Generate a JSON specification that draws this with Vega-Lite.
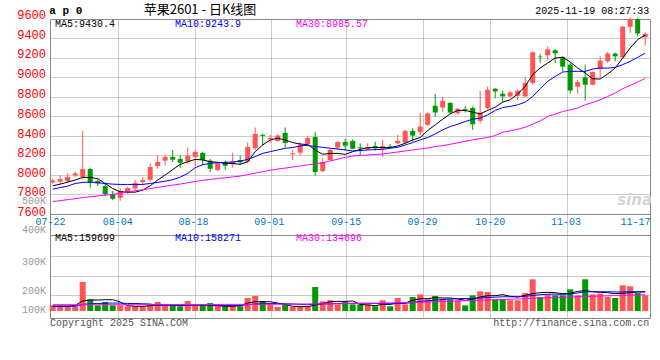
{
"$schema": "https://vega.github.io/schema/vega-lite/v6.json",
"width": 600, "height": 299,
"autosize": {"type": "none"},
"padding": {"left": 50, "top": 19, "right": 10, "bottom": 42},
"background": "#ffffff",
"config": {"view": {"stroke": "#888888", "strokeWidth": 1}, "scale": {"continuousPadding": 0}},
"data": {"values": [
{"i":0,"d":"07-22","o":7919,"h":7957,"l":7902,"c":7939,"m5":7884,"m10":7850,"m30":7722,"v":47000,"v5":39000,"v10":40000,"v30":52000},
{"i":1,"d":"07-23","o":7926,"h":7994,"l":7902,"c":7953,"m5":7901,"m10":7866,"m30":7732,"v":47000,"v5":39000,"v10":40000,"v30":52000},
{"i":2,"d":"07-24","o":7933,"h":8011,"l":7915,"c":7974,"m5":7922,"m10":7881,"m30":7742,"v":47000,"v5":39000,"v10":40000,"v30":52000},
{"i":3,"d":"07-25","o":7991,"h":8029,"l":7974,"c":8011,"m5":7943,"m10":7908,"m30":7752,"v":39000,"v5":47000,"v10":40000,"v30":52000},
{"i":4,"d":"07-28","o":7974,"h":8447,"l":7950,"c":8056,"m5":7970,"m10":7919,"m30":7763,"v":241000,"v5":83000,"v10":55000,"v30":52000},
{"i":5,"d":"07-29","o":8056,"h":8070,"l":7864,"c":7915,"m5":7970,"m10":7922,"m30":7771,"v":97000,"v5":91000,"v10":60000,"v30":52000},
{"i":6,"d":"07-30","o":7933,"h":7950,"l":7885,"c":7909,"m5":7957,"m10":7915,"m30":7780,"v":47000,"v5":91000,"v10":62000,"v30":52000},
{"i":7,"d":"07-31","o":7881,"h":7915,"l":7778,"c":7799,"m5":7908,"m10":7908,"m30":7788,"v":75000,"v5":94000,"v10":65000,"v30":52000},
{"i":8,"d":"08-01","o":7799,"h":7830,"l":7737,"c":7751,"m5":7857,"m10":7901,"m30":7797,"v":47000,"v5":94000,"v10":66000,"v30":52000},
{"i":9,"d":"08-04","o":7761,"h":7857,"l":7730,"c":7830,"m5":7823,"m10":7898,"m30":7808,"v":47000,"v5":75000,"v10":66000,"v30":52000},
{"i":10,"d":"08-05","o":7812,"h":7874,"l":7799,"c":7861,"m5":7819,"m10":7898,"m30":7820,"v":39000,"v5":44000,"v10":62000,"v30":52000},
{"i":11,"d":"08-06","o":7857,"h":7943,"l":7833,"c":7912,"m5":7819,"m10":7898,"m30":7832,"v":39000,"v5":39000,"v10":62000,"v30":52000},
{"i":12,"d":"08-07","o":7922,"h":7974,"l":7891,"c":7943,"m5":7840,"m10":7898,"m30":7844,"v":39000,"v5":39000,"v10":60000,"v30":53000},
{"i":13,"d":"08-08","o":7946,"h":8111,"l":7926,"c":8077,"m5":7884,"m10":7908,"m30":7856,"v":55000,"v5":44000,"v10":58000,"v30":53000},
{"i":14,"d":"08-11","o":8087,"h":8200,"l":8060,"c":8128,"m5":7943,"m10":7919,"m30":7868,"v":75000,"v5":50000,"v10":48000,"v30":53000},
{"i":15,"d":"08-12","o":8142,"h":8204,"l":8094,"c":8180,"m5":7995,"m10":7932,"m30":7880,"v":55000,"v5":50000,"v10":48000,"v30":53000},
{"i":16,"d":"08-13","o":8180,"h":8252,"l":8128,"c":8152,"m5":8050,"m10":7946,"m30":7891,"v":47000,"v5":50000,"v10":48000,"v30":53000},
{"i":17,"d":"08-14","o":8159,"h":8197,"l":8070,"c":8121,"m5":8104,"m10":7973,"m30":7902,"v":39000,"v5":44000,"v10":48000,"v30":53000},
{"i":18,"d":"08-15","o":8135,"h":8279,"l":8111,"c":8193,"m5":8131,"m10":8011,"m30":7915,"v":83000,"v5":50000,"v10":50000,"v30":54000},
{"i":19,"d":"08-18","o":8180,"h":8252,"l":8080,"c":8231,"m5":8155,"m10":8070,"m30":7928,"v":47000,"v5":50000,"v10":50000,"v30":54000},
{"i":20,"d":"08-19","o":8221,"h":8234,"l":8097,"c":8149,"m5":8149,"m10":8100,"m30":7940,"v":47000,"v5":50000,"v10":50000,"v30":54000},
{"i":21,"d":"08-20","o":8142,"h":8159,"l":8025,"c":8059,"m5":8131,"m10":8114,"m30":7949,"v":66000,"v5":50000,"v10":50000,"v30":54000},
{"i":22,"d":"08-21","o":8046,"h":8125,"l":8035,"c":8114,"m5":8125,"m10":8121,"m30":7958,"v":47000,"v5":44000,"v10":48000,"v30":54000},
{"i":23,"d":"08-22","o":8125,"h":8142,"l":8046,"c":8090,"m5":8114,"m10":8125,"m30":7966,"v":39000,"v5":39000,"v10":46000,"v30":55000},
{"i":24,"d":"08-25","o":8104,"h":8224,"l":8070,"c":8132,"m5":8114,"m10":8128,"m30":7975,"v":47000,"v5":39000,"v10":46000,"v30":55000},
{"i":25,"d":"08-26","o":8149,"h":8193,"l":8097,"c":8125,"m5":8104,"m10":8138,"m30":7984,"v":39000,"v5":44000,"v10":46000,"v30":55000},
{"i":26,"d":"08-27","o":8132,"h":8327,"l":8121,"c":8283,"m5":8131,"m10":8155,"m30":7999,"v":108000,"v5":66000,"v10":52000,"v30":55000},
{"i":27,"d":"08-28","o":8269,"h":8482,"l":8252,"c":8416,"m5":8234,"m10":8183,"m30":8014,"v":125000,"v5":77000,"v10":58000,"v30":55000},
{"i":28,"d":"08-29","o":8406,"h":8420,"l":8296,"c":8396,"m5":8303,"m10":8217,"m30":8029,"v":83000,"v5":77000,"v10":60000,"v30":56000},
{"i":29,"d":"09-01","o":8361,"h":8406,"l":8320,"c":8375,"m5":8354,"m10":8234,"m30":8043,"v":55000,"v5":77000,"v10":62000,"v30":56000},
{"i":30,"d":"09-02","o":8344,"h":8413,"l":8334,"c":8399,"m5":8372,"m10":8252,"m30":8056,"v":33000,"v5":66000,"v10":62000,"v30":56000},
{"i":31,"d":"09-03","o":8427,"h":8482,"l":8276,"c":8324,"m5":8354,"m10":8269,"m30":8066,"v":55000,"v5":55000,"v10":60000,"v30":57000},
{"i":32,"d":"09-04","o":8207,"h":8252,"l":8149,"c":8217,"m5":8327,"m10":8276,"m30":8077,"v":33000,"v5":39000,"v10":58000,"v30":57000},
{"i":33,"d":"09-05","o":8224,"h":8331,"l":8197,"c":8307,"m5":8313,"m10":8293,"m30":8087,"v":33000,"v5":36000,"v10":55000,"v30":58000},
{"i":34,"d":"09-08","o":8310,"h":8396,"l":8286,"c":8375,"m5":8306,"m10":8300,"m30":8098,"v":39000,"v5":36000,"v10":52000,"v30":58000},
{"i":35,"d":"09-09","o":8385,"h":8437,"l":7987,"c":8025,"m5":8252,"m10":8286,"m30":8110,"v":199000,"v5":50000,"v10":58000,"v30":59000},
{"i":36,"d":"09-10","o":8035,"h":8169,"l":8025,"c":8128,"m5":8207,"m10":8279,"m30":8121,"v":80000,"v5":61000,"v10":58000,"v30":59000},
{"i":37,"d":"09-11","o":8149,"h":8262,"l":8138,"c":8252,"m5":8217,"m10":8269,"m30":8139,"v":89000,"v5":77000,"v10":60000,"v30":60000},
{"i":38,"d":"09-12","o":8276,"h":8340,"l":8252,"c":8334,"m5":8217,"m10":8262,"m30":8157,"v":55000,"v5":80000,"v10":62000,"v30":60000},
{"i":39,"d":"09-15","o":8334,"h":8365,"l":8245,"c":8296,"m5":8207,"m10":8252,"m30":8176,"v":80000,"v5":80000,"v10":62000,"v30":61000},
{"i":40,"d":"09-16","o":8344,"h":8361,"l":8259,"c":8265,"m5":8234,"m10":8241,"m30":8190,"v":55000,"v5":83000,"v10":64000,"v30":62000},
{"i":41,"d":"09-17","o":8279,"h":8320,"l":8200,"c":8269,"m5":8258,"m10":8245,"m30":8195,"v":55000,"v5":55000,"v10":64000,"v30":63000},
{"i":42,"d":"09-18","o":8259,"h":8320,"l":8245,"c":8279,"m5":8276,"m10":8252,"m30":8200,"v":55000,"v5":50000,"v10":64000,"v30":64000},
{"i":43,"d":"09-19","o":8293,"h":8337,"l":8245,"c":8269,"m5":8276,"m10":8255,"m30":8205,"v":39000,"v5":44000,"v10":62000,"v30":65000},
{"i":44,"d":"09-22","o":8265,"h":8355,"l":8176,"c":8293,"m5":8276,"m10":8258,"m30":8210,"v":89000,"v5":55000,"v10":62000,"v30":66000},
{"i":45,"d":"09-23","o":8289,"h":8313,"l":8272,"c":8283,"m5":8276,"m10":8269,"m30":8221,"v":39000,"v5":55000,"v10":60000,"v30":67000},
{"i":46,"d":"09-24","o":8320,"h":8406,"l":8313,"c":8344,"m5":8293,"m10":8279,"m30":8231,"v":108000,"v5":66000,"v10":62000,"v30":69000},
{"i":47,"d":"09-25","o":8327,"h":8458,"l":8320,"c":8447,"m5":8320,"m10":8303,"m30":8241,"v":55000,"v5":66000,"v10":64000,"v30":71000},
{"i":48,"d":"09-26","o":8447,"h":8475,"l":8337,"c":8399,"m5":8355,"m10":8327,"m30":8252,"v":116000,"v5":89000,"v10":70000,"v30":72000},
{"i":49,"d":"09-29","o":8434,"h":8629,"l":8406,"c":8492,"m5":8379,"m10":8355,"m30":8262,"v":138000,"v5":102000,"v10":80000,"v30":73000},
{"i":50,"d":"09-30","o":8509,"h":8636,"l":8499,"c":8626,"m5":8451,"m10":8379,"m30":8272,"v":97000,"v5":102000,"v10":85000,"v30":75000},
{"i":51,"d":"10-09","o":8705,"h":8828,"l":8595,"c":8636,"m5":8509,"m10":8416,"m30":8286,"v":125000,"v5":111000,"v10":90000,"v30":77000},
{"i":52,"d":"10-10","o":8687,"h":8794,"l":8643,"c":8756,"m5":8567,"m10":8458,"m30":8296,"v":102000,"v5":108000,"v10":95000,"v30":79000},
{"i":53,"d":"10-13","o":8735,"h":8740,"l":8622,"c":8636,"m5":8622,"m10":8492,"m30":8310,"v":97000,"v5":108000,"v10":100000,"v30":81000},
{"i":54,"d":"10-14","o":8629,"h":8680,"l":8612,"c":8674,"m5":8657,"m10":8516,"m30":8325,"v":89000,"v5":100000,"v10":102000,"v30":83000},
{"i":55,"d":"10-15","o":8670,"h":8705,"l":8636,"c":8660,"m5":8657,"m10":8543,"m30":8340,"v":47000,"v5":89000,"v10":104000,"v30":85000},
{"i":56,"d":"10-16","o":8681,"h":8698,"l":8458,"c":8516,"m5":8639,"m10":8567,"m30":8355,"v":130000,"v5":97000,"v10":104000,"v30":87000},
{"i":57,"d":"10-17","o":8550,"h":8859,"l":8526,"c":8636,"m5":8622,"m10":8578,"m30":8368,"v":163000,"v5":116000,"v10":108000,"v30":89000},
{"i":58,"d":"10-20","o":8681,"h":8904,"l":8663,"c":8869,"m5":8657,"m10":8612,"m30":8380,"v":158000,"v5":127000,"v10":112000,"v30":91000},
{"i":59,"d":"10-21","o":8880,"h":8885,"l":8783,"c":8852,"m5":8691,"m10":8657,"m30":8400,"v":97000,"v5":127000,"v10":115000,"v30":93000},
{"i":60,"d":"10-22","o":8828,"h":8859,"l":8742,"c":8801,"m5":8742,"m10":8687,"m30":8434,"v":97000,"v5":136000,"v10":118000,"v30":95000},
{"i":61,"d":"10-23","o":8801,"h":8859,"l":8783,"c":8842,"m5":8766,"m10":8698,"m30":8447,"v":89000,"v5":122000,"v10":118000,"v30":97000},
{"i":62,"d":"10-24","o":8808,"h":8873,"l":8766,"c":8859,"m5":8825,"m10":8715,"m30":8464,"v":89000,"v5":116000,"v10":118000,"v30":100000},
{"i":63,"d":"10-27","o":8801,"h":8996,"l":8794,"c":8938,"m5":8904,"m10":8742,"m30":8485,"v":149000,"v5":130000,"v10":122000,"v30":102000},
{"i":64,"d":"10-28","o":8938,"h":9260,"l":8921,"c":9254,"m5":9024,"m10":8800,"m30":8516,"v":263000,"v5":144000,"v10":128000,"v30":105000},
{"i":65,"d":"10-29","o":9209,"h":9236,"l":9144,"c":9202,"m5":9092,"m10":8880,"m30":8550,"v":116000,"v5":152000,"v10":135000,"v30":108000},
{"i":66,"d":"10-30","o":9223,"h":9315,"l":9168,"c":9284,"m5":9144,"m10":8955,"m30":8595,"v":138000,"v5":155000,"v10":140000,"v30":110000},
{"i":67,"d":"10-31","o":9274,"h":9284,"l":9144,"c":9243,"m5":9195,"m10":9006,"m30":8619,"v":130000,"v5":152000,"v10":140000,"v30":112000},
{"i":68,"d":"11-03","o":9206,"h":9210,"l":9058,"c":9106,"m5":9202,"m10":9051,"m30":8646,"v":130000,"v5":144000,"v10":138000,"v30":114000},
{"i":69,"d":"11-04","o":9127,"h":9151,"l":8828,"c":8862,"m5":9154,"m10":9058,"m30":8663,"v":180000,"v5":147000,"v10":142000,"v30":116000},
{"i":70,"d":"11-05","o":8900,"h":8972,"l":8828,"c":8948,"m5":9092,"m10":9058,"m30":8681,"v":130000,"v5":163000,"v10":150000,"v30":118000},
{"i":71,"d":"11-06","o":8996,"h":9127,"l":8759,"c":8921,"m5":9041,"m10":9058,"m30":8715,"v":263000,"v5":169000,"v10":160000,"v30":120000},
{"i":72,"d":"11-07","o":8921,"h":9058,"l":8914,"c":9051,"m5":8982,"m10":9082,"m30":8739,"v":138000,"v5":160000,"v10":160000,"v30":122000},
{"i":73,"d":"11-10","o":9082,"h":9212,"l":8989,"c":9168,"m5":8979,"m10":9092,"m30":8766,"v":144000,"v5":155000,"v10":160000,"v30":124000},
{"i":74,"d":"11-11","o":9161,"h":9257,"l":9144,"c":9240,"m5":9031,"m10":9092,"m30":8800,"v":116000,"v5":152000,"v10":160000,"v30":126000},
{"i":75,"d":"11-12","o":9240,"h":9250,"l":9161,"c":9212,"m5":9092,"m10":9099,"m30":8835,"v":108000,"v5":144000,"v10":158000,"v30":128000},
{"i":76,"d":"11-13","o":9202,"h":9520,"l":9195,"c":9518,"m5":9195,"m10":9127,"m30":8880,"v":213000,"v5":147000,"v10":158000,"v30":130000},
{"i":77,"d":"11-14","o":9514,"h":9614,"l":9453,"c":9595,"m5":9298,"m10":9161,"m30":8914,"v":205000,"v5":152000,"v10":160000,"v30":132000},
{"i":78,"d":"11-17","o":9595,"h":9607,"l":9418,"c":9446,"m5":9384,"m10":9202,"m30":8948,"v":149000,"v5":158000,"v10":160000,"v30":133000},
{"i":79,"d":"11-18","o":9408,"h":9459,"l":9322,"c":9442,"m5":9430,"m10":9244,"m30":8986,"v":130000,"v5":160000,"v10":158000,"v30":135000}
]},
"layer": [
 {"layer": [
  {"mark": {"type": "point", "opacity": 0},
   "encoding": {
    "x": {"field": "i", "type": "quantitative", "scale": {"domain": [-0.36, 79.64], "nice": false, "zero": false, "padding": 0},
      "axis": {"values": [8.7733, 18.9067, 29.04, 39.1733, 49.3067, 58.3733, 68.5067], "title": null, "grid": true, "gridColor": "#999999", "gridDash": [1, 1], "labels": false, "ticks": false, "domain": false}},
    "y": {"field": "l", "type": "quantitative", "scale": {"domain": [6528.2, 9594.9], "nice": false, "zero": false},
      "axis": {"values": [9405.13, 9200, 9005.13, 8800, 8605.13, 8400, 8205.13, 8000, 7805.13, 7169.2, 6964.1, 6759], "title": null, "orient": "left", "grid": true, "gridColor": "#999999", "gridDash": [1, 1], "labels": false, "ticks": false, "domain": false}}}}
 ]},
 {"layer": [
  {"mark": {"type": "point", "opacity": 0},
   "encoding": {
    "x": {"field": "i", "type": "quantitative", "axis": null},
    "y": {"field": "l", "type": "quantitative", "scale": {"domain": [6528.2, 9594.9], "nice": false, "zero": false},
      "axis": {"values": [7600, 7384.6], "title": null, "orient": "left", "grid": true, "gridColor": "#888888", "labels": false, "ticks": false, "domain": false}}}}
 ]},
 {"layer": [
  {"mark": {"type": "rule", "strokeWidth": 1},
   "encoding": {
    "x": {"field": "i", "type": "quantitative", "scale": {"domain": [-0.36, 79.64], "nice": false, "zero": false, "padding": 0}, "axis": null},
    "y": {"field": "l", "type": "quantitative", "scale": {"domain": [6528.2, 9594.9], "nice": false, "zero": false}, "axis": null},
    "y2": {"field": "h"},
    "color": {"condition": {"test": "datum.c >= datum.o", "value": "#ff5555"}, "value": "#009900"}}},
  {"mark": {"type": "bar", "size": 5},
   "encoding": {
    "x": {"field": "i", "type": "quantitative", "axis": null},
    "y": {"field": "o", "type": "quantitative", "axis": null},
    "y2": {"field": "c"},
    "color": {"condition": {"test": "datum.c >= datum.o", "value": "#ff5555"}, "value": "#009900"}}},
  {"mark": {"type": "line", "color": "#000000", "strokeWidth": 1},
   "encoding": {"x": {"field": "i", "type": "quantitative", "axis": null}, "y": {"field": "m5", "type": "quantitative", "axis": null}}},
  {"mark": {"type": "line", "color": "#0000ff", "strokeWidth": 1},
   "encoding": {"x": {"field": "i", "type": "quantitative", "axis": null}, "y": {"field": "m10", "type": "quantitative", "axis": null}}},
  {"mark": {"type": "line", "color": "#ff00ff", "strokeWidth": 1},
   "encoding": {"x": {"field": "i", "type": "quantitative", "axis": null}, "y": {"field": "m30", "type": "quantitative", "axis": null}}},
  {"data": {"values": [{}]}, "mark": {"type": "text", "align": "right", "baseline": "middle", "font": "Liberation Mono", "fontSize": 12, "color": "#ff0000"}, "encoding": {"x": {"datum": -0.893, "axis": null}, "y": {"datum": 9635.9, "axis": null}, "text": {"value": "9600"}}},
  {"data": {"values": [{}]}, "mark": {"type": "text", "align": "right", "baseline": "middle", "font": "Liberation Mono", "fontSize": 12, "color": "#ff0000"}, "encoding": {"x": {"datum": -0.893, "axis": null}, "y": {"datum": 9435.9, "axis": null}, "text": {"value": "9400"}}},
  {"data": {"values": [{}]}, "mark": {"type": "text", "align": "right", "baseline": "middle", "font": "Liberation Mono", "fontSize": 12, "color": "#ff0000"}, "encoding": {"x": {"datum": -0.893, "axis": null}, "y": {"datum": 9235.9, "axis": null}, "text": {"value": "9200"}}},
  {"data": {"values": [{}]}, "mark": {"type": "text", "align": "right", "baseline": "middle", "font": "Liberation Mono", "fontSize": 12, "color": "#ff0000"}, "encoding": {"x": {"datum": -0.893, "axis": null}, "y": {"datum": 9030.8, "axis": null}, "text": {"value": "9000"}}},
  {"data": {"values": [{}]}, "mark": {"type": "text", "align": "right", "baseline": "middle", "font": "Liberation Mono", "fontSize": 12, "color": "#ff0000"}, "encoding": {"x": {"datum": -0.893, "axis": null}, "y": {"datum": 8825.6, "axis": null}, "text": {"value": "8800"}}},
  {"data": {"values": [{}]}, "mark": {"type": "text", "align": "right", "baseline": "middle", "font": "Liberation Mono", "fontSize": 12, "color": "#ff0000"}, "encoding": {"x": {"datum": -0.893, "axis": null}, "y": {"datum": 8620.5, "axis": null}, "text": {"value": "8600"}}},
  {"data": {"values": [{}]}, "mark": {"type": "text", "align": "right", "baseline": "middle", "font": "Liberation Mono", "fontSize": 12, "color": "#ff0000"}, "encoding": {"x": {"datum": -0.893, "axis": null}, "y": {"datum": 8420.5, "axis": null}, "text": {"value": "8400"}}},
  {"data": {"values": [{}]}, "mark": {"type": "text", "align": "right", "baseline": "middle", "font": "Liberation Mono", "fontSize": 12, "color": "#ff0000"}, "encoding": {"x": {"datum": -0.893, "axis": null}, "y": {"datum": 8220.5, "axis": null}, "text": {"value": "8200"}}},
  {"data": {"values": [{}]}, "mark": {"type": "text", "align": "right", "baseline": "middle", "font": "Liberation Mono", "fontSize": 12, "color": "#ff0000"}, "encoding": {"x": {"datum": -0.893, "axis": null}, "y": {"datum": 8020.5, "axis": null}, "text": {"value": "8000"}}},
  {"data": {"values": [{}]}, "mark": {"type": "text", "align": "right", "baseline": "middle", "font": "Liberation Mono", "fontSize": 12, "color": "#ff0000"}, "encoding": {"x": {"datum": -0.893, "axis": null}, "y": {"datum": 7815.4, "axis": null}, "text": {"value": "7800"}}},
  {"data": {"values": [{}]}, "mark": {"type": "text", "align": "right", "baseline": "middle", "font": "Liberation Mono", "fontSize": 12, "color": "#ff0000"}, "encoding": {"x": {"datum": -0.893, "axis": null}, "y": {"datum": 7615.4, "axis": null}, "text": {"value": "7600"}}},
  {"data": {"values": [{}]}, "mark": {"type": "text", "align": "right", "baseline": "middle", "font": "Liberation Mono", "fontSize": 10, "color": "#999999"}, "encoding": {"x": {"datum": -0.893, "axis": null}, "y": {"datum": 7731.3, "axis": null}, "text": {"value": "500K"}}},
  {"data": {"values": [{}]}, "mark": {"type": "text", "align": "right", "baseline": "middle", "font": "Liberation Mono", "fontSize": 10, "color": "#999999"}, "encoding": {"x": {"datum": -0.893, "axis": null}, "y": {"datum": 7430.8, "axis": null}, "text": {"value": "400K"}}},
  {"data": {"values": [{}]}, "mark": {"type": "text", "align": "right", "baseline": "middle", "font": "Liberation Mono", "fontSize": 10, "color": "#999999"}, "encoding": {"x": {"datum": -0.893, "axis": null}, "y": {"datum": 7105.6, "axis": null}, "text": {"value": "300K"}}},
  {"data": {"values": [{}]}, "mark": {"type": "text", "align": "right", "baseline": "middle", "font": "Liberation Mono", "fontSize": 10, "color": "#999999"}, "encoding": {"x": {"datum": -0.893, "axis": null}, "y": {"datum": 6805.1, "axis": null}, "text": {"value": "200K"}}},
  {"data": {"values": [{}]}, "mark": {"type": "text", "align": "right", "baseline": "middle", "font": "Liberation Mono", "fontSize": 10, "color": "#999999"}, "encoding": {"x": {"datum": -0.893, "axis": null}, "y": {"datum": 6607.2, "axis": null}, "text": {"value": "100K"}}},
  {"data": {"values": [{}]}, "mark": {"type": "text", "align": "left", "baseline": "middle", "font": "Liberation Mono", "fontSize": 11, "fontWeight": "bold", "color": "#000000"}, "encoding": {"x": {"datum": -0.45, "axis": null}, "y": {"datum": 9676.9, "axis": null}, "text": {"value": "a p 0"}}},
  {"data": {"values": [{}]}, "mark": {"type": "text", "align": "center", "baseline": "middle", "font": "Noto Sans CJK SC", "fontSize": 13, "color": "#000000"}, "encoding": {"x": {"datum": 19.64, "axis": null}, "y": {"datum": 9687.2, "axis": null}, "text": {"value": "苹果2601 - 日K线图"}}},
  {"data": {"values": [{}]}, "mark": {"type": "text", "align": "right", "baseline": "middle", "font": "Liberation Mono", "fontSize": 10, "color": "#000000"}, "encoding": {"x": {"datum": 79.55, "axis": null}, "y": {"datum": 9676.9, "axis": null}, "text": {"value": "2025-11-19 08:27:33"}}},
  {"data": {"values": [{}]}, "mark": {"type": "text", "align": "left", "baseline": "middle", "font": "Liberation Mono", "fontSize": 10, "color": "#000000"}, "encoding": {"x": {"datum": 0.31, "axis": null}, "y": {"datum": 9540.5, "axis": null}, "text": {"value": "MA5:9430.4"}}},
  {"data": {"values": [{}]}, "mark": {"type": "text", "align": "left", "baseline": "middle", "font": "Liberation Mono", "fontSize": 10, "color": "#0000ff"}, "encoding": {"x": {"datum": 16.31, "axis": null}, "y": {"datum": 9540.5, "axis": null}, "text": {"value": "MA10:9243.9"}}},
  {"data": {"values": [{}]}, "mark": {"type": "text", "align": "left", "baseline": "middle", "font": "Liberation Mono", "fontSize": 10, "color": "#ff00ff"}, "encoding": {"x": {"datum": 32.44, "axis": null}, "y": {"datum": 9540.5, "axis": null}, "text": {"value": "MA30:8985.57"}}},
  {"data": {"values": [{}]}, "mark": {"type": "text", "align": "left", "baseline": "middle", "font": "Liberation Mono", "fontSize": 10, "color": "#000000"}, "encoding": {"x": {"datum": 0.31, "axis": null}, "y": {"datum": 7345.6, "axis": null}, "text": {"value": "MA5:159699"}}},
  {"data": {"values": [{}]}, "mark": {"type": "text", "align": "left", "baseline": "middle", "font": "Liberation Mono", "fontSize": 10, "color": "#0000ff"}, "encoding": {"x": {"datum": 16.31, "axis": null}, "y": {"datum": 7345.6, "axis": null}, "text": {"value": "MA10:158271"}}},
  {"data": {"values": [{}]}, "mark": {"type": "text", "align": "left", "baseline": "middle", "font": "Liberation Mono", "fontSize": 10, "color": "#ff00ff"}, "encoding": {"x": {"datum": 32.44, "axis": null}, "y": {"datum": 7345.6, "axis": null}, "text": {"value": "MA30:134696"}}},
  {"data": {"values": [{}]}, "mark": {"type": "text", "align": "left", "baseline": "middle", "font": "Liberation Mono", "fontSize": 10, "color": "#555555"}, "encoding": {"x": {"datum": -0.36, "axis": null}, "y": {"datum": 6476.9, "axis": null}, "text": {"value": "Copyright 2025 SINA.COM"}}},
  {"data": {"values": [{}]}, "mark": {"type": "text", "align": "right", "baseline": "middle", "font": "Liberation Mono", "fontSize": 10, "color": "#555555"}, "encoding": {"x": {"datum": 79.55, "axis": null}, "y": {"datum": 6471.8, "axis": null}, "text": {"value": "http://finance.sina.com.cn"}}},
  {"data": {"values": [{}]}, "mark": {"type": "text", "align": "center", "baseline": "middle", "font": "DejaVu Sans", "fontSize": 15, "fontWeight": "bold", "fontStyle": "italic", "color": "#d4d4d4"}, "encoding": {"x": {"datum": 77.6, "axis": null}, "y": {"datum": 7738.5, "axis": null}, "text": {"value": "sina"}}}
 ]},
 {"layer": [
  {"mark": {"type": "bar", "size": 6},
   "encoding": {
    "x": {"field": "i", "type": "quantitative", "scale": {"domain": [-0.36, 79.64], "nice": false, "zero": false, "padding": 0},
      "axis": {"values": [-0.36, 8.6, 18.71, 28.81, 39.08, 49.24, 58.28, 68.37, 77.63], "title": null, "orient": "bottom", "grid": false, "domain": false, "ticks": false, "tickSize": 0,
        "labelPadding": 0, "labelBaseline": "middle", "labelFont": "Liberation Mono", "labelFontSize": 10, "labelColor": "#0077cc",
        "labelFlush": false, "labelOverlap": false, "labelBound": false, "offset": -97, "zindex": 1,
        "labelExpr": "datum.value < 0 ? '07-22' : datum.value < 10 ? '08-04' : datum.value < 20 ? '08-18' : datum.value < 30 ? '09-01' : datum.value < 40 ? '09-15' : datum.value < 50 ? '09-29' : datum.value < 60 ? '10-20' : datum.value < 70 ? '11-03' : '11-17'"}},
    "y": {"field": "v", "type": "quantitative", "scale": {"domain": [-58091, 2423237], "nice": false, "zero": false}, "axis": null},
    "y2": {"datum": 0},
    "color": {"condition": {"test": "datum.c >= datum.o", "value": "#ff5555"}, "value": "#009900"}}},
  {"mark": {"type": "line", "color": "#000000", "strokeWidth": 1},
   "encoding": {"x": {"field": "i", "type": "quantitative"}, "y": {"field": "v5", "type": "quantitative", "axis": null}}},
  {"mark": {"type": "line", "color": "#0000ff", "strokeWidth": 1},
   "encoding": {"x": {"field": "i", "type": "quantitative"}, "y": {"field": "v10", "type": "quantitative", "axis": null}}},
  {"mark": {"type": "line", "color": "#ff00ff", "strokeWidth": 1},
   "encoding": {"x": {"field": "i", "type": "quantitative"}, "y": {"field": "v30", "type": "quantitative", "axis": null}}}
 ]}
],
"resolve": {"scale": {"y": "independent"}, "axis": {"x": "independent"}}
}
